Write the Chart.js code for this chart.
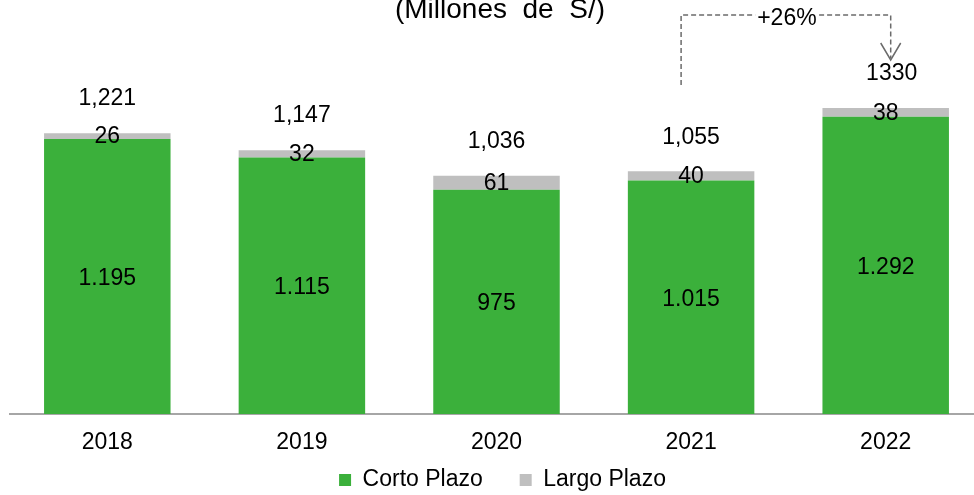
<!DOCTYPE html>
<html lang="es">
<head>
<meta charset="UTF-8">
<title>Millones de S/</title>
<script src="https://cdn.jsdelivr.net/npm/chart.js"></script>
<style>
  body { margin: 0; padding: 0; overflow: hidden; background: #fff; }
  #wrap { width: 984px; height: 495px; position: relative; }
</style>
</head>
<body>
<div id="wrap"><canvas id="chart"></canvas></div>
<script>
const years = ['2018', '2019', '2020', '2021', '2022'];
const cortoPlazo = [1195, 1115, 975, 1015, 1292];
const largoPlazo = [26, 32, 61, 40, 38];
const cortoLabels = ['1.195', '1.115', '975', '1.015', '1.292'];
const largoLabels = ['26', '32', '61', '40', '38'];
const totalLabels = ['1,221', '1,147', '1,036', '1,055', '1330'];
const growthLabel = '+26%';

const FONT = 'Liberation Sans, Arial, sans-serif';

// etiquetas, título y la flecha de crecimiento
const extras = {
  id: 'extras',
  afterLayout(chart) {
    // mover un poco la leyenda a la derecha, como en el original
    chart.legend.left += 6;
    chart.legend.right += 6;
  },
  afterDraw(chart) {
    const ctx = chart.ctx;
    const x = chart.scales.x, y = chart.scales.y;
    ctx.save();
    ctx.fillStyle = '#000';
    ctx.textAlign = 'center';
    ctx.textBaseline = 'middle';
    ctx.font = '23px ' + FONT;
    years.forEach((yr, i) => {
      const cx = x.getPixelForValue(i);
      const base = y.getPixelForValue(0);
      const gTop = y.getPixelForValue(cortoPlazo[i]);
      const tTop = y.getPixelForValue(cortoPlazo[i] + largoPlazo[i]);
      ctx.fillText(cortoLabels[i], cx, (base + gTop) / 2 + 2);
      ctx.fillText(largoLabels[i], cx, (gTop + tTop) / 2 + 1);
      ctx.fillText(totalLabels[i], cx + (i === 4 ? 6 : 0), tTop - 34);
    });

    // título (cortado arriba)
    ctx.font = '28px ' + FONT;
    ctx.textBaseline = 'alphabetic';
    ctx.fillText('(Millones  de  S/)', 500, 18);

    // flecha +26%
    const xl = x.getPixelForValue(3) - 10;
    const xr = x.getPixelForValue(4) + 5;
    const yTop = 15;
    ctx.strokeStyle = '#6b6b6b';
    ctx.lineWidth = 1.5;
    ctx.setLineDash([5, 3]);
    ctx.beginPath();
    ctx.moveTo(xl, 85);
    ctx.lineTo(xl, yTop);
    ctx.lineTo(xr, yTop);
    ctx.lineTo(xr, 58);
    ctx.stroke();
    ctx.setLineDash([]);
    ctx.beginPath();
    ctx.moveTo(xr - 10, 43);
    ctx.lineTo(xr, 60);
    ctx.lineTo(xr + 10, 43);
    ctx.stroke();
    ctx.font = '23px ' + FONT;
    ctx.textBaseline = 'middle';
    const mx = (xl + xr) / 2 + 1;
    const tw = ctx.measureText(growthLabel).width;
    ctx.fillStyle = '#fff';
    ctx.fillRect(mx - tw / 2 - 2, yTop - 10, tw + 4, 20);
    ctx.fillStyle = '#000';
    ctx.fillText(growthLabel, mx, yTop + 4);
    ctx.restore();
  }
};

new Chart(document.getElementById('chart'), {
  type: 'bar',
  data: {
    labels: years,
    datasets: [
      { label: 'Corto Plazo', data: cortoPlazo, backgroundColor: '#3bb03b',
        barPercentage: 0.65, categoryPercentage: 1 },
      { label: 'Largo Plazo', data: largoPlazo, backgroundColor: '#bfbfbf',
        barPercentage: 0.65, categoryPercentage: 1 }
    ]
  },
  options: {
    responsive: true,
    maintainAspectRatio: false,
    animation: false,
    layout: { padding: { top: 0, left: 10, right: 1, bottom: -6.5 } },
    plugins: {
      legend: {
        position: 'bottom',
        labels: {
          boxWidth: 12, boxHeight: 12, padding: 5,
          color: '#000',
          font: { family: FONT, size: 23 },
          generateLabels(chart) {
            const items = Chart.defaults.plugins.legend.labels.generateLabels(chart);
            // hueco más ancho entre las dos entradas
            items[0].text += '\u00a0\u00a0\u00a0\u00a0\u00a0';
            return items;
          }
        }
      },
      tooltip: { enabled: false }
    },
    scales: {
      x: {
        stacked: true,
        grid: { display: false, drawTicks: false },
        border: { color: '#a6a6a6', width: 2 },
        ticks: { color: '#000', padding: 15, font: { family: FONT, size: 23 } },
        afterFit(scale) { scale.height -= 8; }
      },
      y: {
        stacked: true,
        display: false,
        min: 0,
        max: 1800
      }
    }
  },
  plugins: [extras]
});
</script>
</body>
</html>
